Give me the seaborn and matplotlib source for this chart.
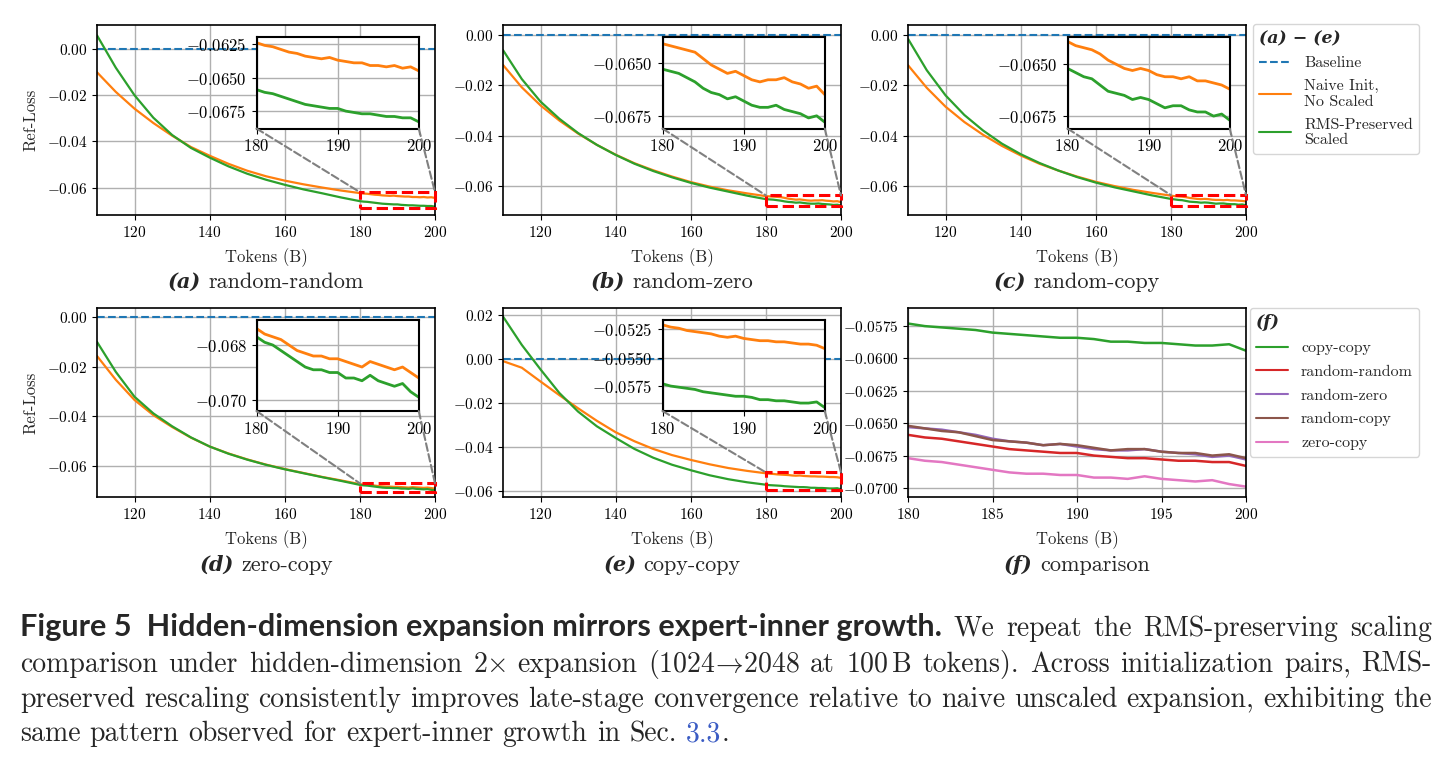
import matplotlib
matplotlib.use("Agg")
import matplotlib.pyplot as plt
import seaborn as sns
from matplotlib.patches import Rectangle, ConnectionPatch
from matplotlib.lines import Line2D
from matplotlib.ticker import FuncFormatter
from matplotlib.transforms import IdentityTransform
from matplotlib.font_manager import FontProperties

# tokens (B): every 5 B up to 175, then every 1 B over the zoomed window
tokens = list(range(110, 180, 5)) + list(range(180, 201))
baseline = 0.0

# (a) random-random
naive_rr = [-0.0100, -0.0185, -0.0258, -0.0320, -0.0375, -0.0424, -0.0462, -0.0497, -0.0527, -0.0551,
            -0.0570, -0.0586, -0.0600, -0.0613,
            -0.0624, -0.0626, -0.0627, -0.0629, -0.0631, -0.0632, -0.0634, -0.0635, -0.0636, -0.0635,
            -0.0637, -0.0638, -0.0639, -0.0639, -0.0641, -0.0641, -0.0642, -0.0641, -0.0643, -0.0642, -0.0645]
rms_rr = [0.0060, -0.0080, -0.0200, -0.0297, -0.0372, -0.0428, -0.0470, -0.0508, -0.0540, -0.0566,
          -0.0588, -0.0608, -0.0625, -0.0643,
          -0.0659, -0.0661, -0.0662, -0.0664, -0.0666, -0.0668, -0.0670, -0.0671, -0.0672, -0.0673,
          -0.0673, -0.0675, -0.0676, -0.0677, -0.0677, -0.0678, -0.0679, -0.0679, -0.0680, -0.0680, -0.0683]
# (b) random-zero
naive_rz = [-0.0119, -0.0208, -0.0280, -0.0340, -0.0392, -0.0437, -0.0476, -0.0510, -0.0538, -0.0563,
            -0.0585, -0.0603, -0.0618, -0.0630,
            -0.0641, -0.0642, -0.0643, -0.0644, -0.0645, -0.0648, -0.0651, -0.0653, -0.0655, -0.0654,
            -0.0656, -0.0658, -0.0659, -0.0658, -0.0658, -0.0657, -0.0659, -0.0660, -0.0662, -0.0661, -0.0665]
rms_rz = [-0.0060, -0.0175, -0.0265, -0.0333, -0.0390, -0.0437, -0.0477, -0.0512, -0.0541, -0.0566,
          -0.0588, -0.0607, -0.0623, -0.0639,
          -0.0653, -0.0654, -0.0655, -0.0657, -0.0659, -0.0662, -0.0664, -0.0665, -0.0667, -0.0666,
          -0.0668, -0.0670, -0.0671, -0.0671, -0.0670, -0.0672, -0.0673, -0.0674, -0.0676, -0.0675, -0.0678]
# (c) random-copy
naive_rc = [-0.0120, -0.0210, -0.0285, -0.0346, -0.0397, -0.0441, -0.0479, -0.0512, -0.0539, -0.0563,
            -0.0584, -0.0601, -0.0616, -0.0628,
            -0.0639, -0.0641, -0.0642, -0.0643, -0.0645, -0.0648, -0.0650, -0.0652, -0.0653, -0.0652,
            -0.0653, -0.0655, -0.0656, -0.0656, -0.0657, -0.0656, -0.0658, -0.0658, -0.0659, -0.0660, -0.0662]
rms_rc = [-0.0015, -0.0140, -0.0240, -0.0318, -0.0380, -0.0432, -0.0474, -0.0509, -0.0539, -0.0565,
          -0.0587, -0.0606, -0.0622, -0.0638,
          -0.0652, -0.0654, -0.0656, -0.0657, -0.0660, -0.0663, -0.0664, -0.0665, -0.0667, -0.0666,
          -0.0667, -0.0669, -0.0671, -0.0670, -0.0670, -0.0672, -0.0673, -0.0673, -0.0675, -0.0674, -0.0677]
# (d) zero-copy
naive_zc = [-0.0156, -0.0252, -0.0334, -0.0395, -0.0443, -0.0486, -0.0522, -0.0550, -0.0574, -0.0595,
            -0.0613, -0.0629, -0.0645, -0.0659,
            -0.0674, -0.0676, -0.0677, -0.0678, -0.0680, -0.0682, -0.0683, -0.0684, -0.0684, -0.0685,
            -0.0685, -0.0686, -0.0687, -0.0688, -0.0686, -0.0687, -0.0688, -0.0689, -0.0688, -0.0690, -0.0692]
rms_zc = [-0.0099, -0.0220, -0.0321, -0.0388, -0.0440, -0.0485, -0.0522, -0.0551, -0.0575, -0.0596,
          -0.0614, -0.0630, -0.0646, -0.0661,
          -0.0677, -0.0679, -0.0680, -0.0682, -0.0684, -0.0686, -0.0688, -0.0689, -0.0689, -0.0690,
          -0.0690, -0.0692, -0.0692, -0.0693, -0.0691, -0.0693, -0.0694, -0.0695, -0.0694, -0.0697, -0.0699]
# (e) copy-copy
naive_cc = [-0.0010, -0.0040, -0.0103, -0.0165, -0.0225, -0.0282, -0.0334, -0.0375, -0.0410, -0.0438,
            -0.0460, -0.0480, -0.0497, -0.0510,
            -0.0521, -0.0523, -0.0524, -0.0526, -0.0527, -0.0528, -0.0529, -0.0531, -0.0532, -0.0531,
            -0.0533, -0.0534, -0.0535, -0.0535, -0.0536, -0.0536, -0.0537, -0.0538, -0.0538, -0.0539, -0.0542]
rms_cc = [0.0193, 0.0064, -0.0048, -0.0155, -0.0240, -0.0307, -0.0360, -0.0410, -0.0450, -0.0482,
          -0.0507, -0.0530, -0.0548, -0.0562,
          -0.0573, -0.0575, -0.0576, -0.0577, -0.0578, -0.0580, -0.0581, -0.0582, -0.0583, -0.0584,
          -0.0584, -0.0585, -0.0587, -0.0587, -0.0588, -0.0588, -0.0589, -0.0590, -0.0590, -0.0589, -0.0594]

panel_letters = ["a", "b", "c", "d", "e"]
panel_names = ["random-random", "random-zero", "random-copy", "zero-copy", "copy-copy"]
naive_runs = [naive_rr, naive_rz, naive_rc, naive_zc, naive_cc]
rms_runs = [rms_rr, rms_rz, rms_rc, rms_zc, rms_cc]

main_yticks = [[-0.06, -0.04, -0.02, 0.00]] * 4 + [[-0.06, -0.04, -0.02, 0.00, 0.02]]
main_ylims = [(-0.0719, 0.0105), (-0.0716, 0.0040), (-0.0716, 0.0040), (-0.0726, 0.0038), (-0.0629, 0.0232)]
inset_ylims = [(-0.0688, -0.0620), (-0.0681, -0.0638), (-0.0681, -0.0637), (-0.0704, -0.0671), (-0.0597, -0.0517)]
inset_yticks = [[-0.0675, -0.0650, -0.0625], [-0.0675, -0.0650], [-0.0675, -0.0650],
                [-0.070, -0.068], [-0.0575, -0.0550, -0.0525]]
inset_dec = [4, 4, 4, 3, 4]

# (f) comparison of the RMS-preserved runs
cmp_names = ["copy-copy", "random-random", "random-zero", "random-copy", "zero-copy"]
cmp_runs = [rms_cc, rms_rr, rms_rz, rms_rc, rms_zc]
cmp_colors = ["#2ca02c", "#d62728", "#9467bd", "#8c564b", "#e377c2"]
cmp_yticks = [-0.0700, -0.0675, -0.0650, -0.0625, -0.0600, -0.0575]

C_BASE, C_NAIVE, C_RMS = "#1f77b4", "#ff7f0e", "#2ca02c"

sns.set_style("ticks")
plt.rcParams["font.family"] = "serif"
plt.rcParams["font.serif"] = ["cmr10"]
plt.rcParams["mathtext.fontset"] = "cm"
plt.rcParams["axes.formatter.use_mathtext"] = True
plt.rcParams["axes.edgecolor"] = "black"
plt.rcParams["axes.linewidth"] = 1.2
plt.rcParams["xtick.color"] = "black"
plt.rcParams["ytick.color"] = "black"
plt.rcParams["xtick.labelsize"] = 11
plt.rcParams["ytick.labelsize"] = 11
plt.rcParams["grid.color"] = "#b0b0b0"
plt.rcParams["grid.linewidth"] = 1.0

W, H = 1451, 758
fig = plt.figure(figsize=(W / 100, H / 100), dpi=100)


def px_rect(left, top, right, bottom):
    return [left / W, 1 - bottom / H, (right - left) / W, (bottom - top) / H]


def fmt(dec):
    return FuncFormatter(lambda v, p: rf"$\mathdefault{{{v + 0.0:.{dec}f}}}$")


cols = [(97, 435), (503, 841), (908, 1246)]
rows = [(25, 215), (308, 497)]
slots = [(0, 0), (0, 1), (0, 2), (1, 0), (1, 1)]
fine = slice(14, None)

for i in range(5):
    r, c = slots[i]
    ax = fig.add_axes(px_rect(cols[c][0], rows[r][0], cols[c][1], rows[r][1]))
    ax.axhline(baseline, ls="--", color=C_BASE, lw=1.5)
    sns.lineplot(x=tokens, y=naive_runs[i], ax=ax, color=C_NAIVE, lw=1.6)
    sns.lineplot(x=tokens, y=rms_runs[i], ax=ax, color=C_RMS, lw=1.6)
    ax.set_xlim(110, 200)
    ax.set_ylim(*main_ylims[i])
    ax.set_xticks([120, 140, 160, 180, 200])
    ax.set_yticks(main_yticks[i])
    ax.yaxis.set_major_formatter(fmt(2))
    ax.grid(True)
    ax.set_xlabel("Tokens (B)", fontsize=12, labelpad=6)
    ax.set_ylabel("Ref-Loss" if c == 0 else "", fontsize=12, labelpad=6)

    lo, hi = inset_ylims[i]
    axins = ax.inset_axes([0.472, 0.455, 0.48, 0.48])
    sns.lineplot(x=tokens[fine], y=naive_runs[i][fine], ax=axins, color=C_NAIVE, lw=2.0)
    sns.lineplot(x=tokens[fine], y=rms_runs[i][fine], ax=axins, color=C_RMS, lw=2.0)
    axins.set_xlim(180, 200)
    axins.set_ylim(lo, hi)
    axins.set_xticks([180, 190, 200])
    axins.set_yticks(inset_yticks[i])
    axins.yaxis.set_major_formatter(fmt(inset_dec[i]))
    axins.tick_params(labelsize=12)
    axins.set_xlabel("")
    axins.set_ylabel("")
    axins.grid(True)
    for sp in axins.spines.values():
        sp.set_linewidth(1.5)

    ax.add_patch(Rectangle((180, lo), 20, hi - lo, fill=False, ec="red", ls="--", lw=2.2,
                           clip_on=False, zorder=5))
    for xc in (180, 200):
        fig.add_artist(ConnectionPatch(xyA=(xc, lo), coordsA=axins.transData,
                                       xyB=(xc, hi), coordsB=ax.transData,
                                       color="gray", ls="--", lw=1.5))

# panel (f)
axf = fig.add_axes(px_rect(cols[2][0], rows[1][0], cols[2][1], rows[1][1]))
for name, run, col in zip(cmp_names, cmp_runs, cmp_colors):
    sns.lineplot(x=tokens[fine], y=run[fine], ax=axf, color=col, lw=1.8)
axf.set_xlim(180, 200)
axf.set_ylim(-0.0707, -0.0561)
axf.set_xticks([180, 185, 190, 195, 200])
axf.set_yticks(cmp_yticks)
axf.yaxis.set_major_formatter(fmt(4))
axf.grid(True)
axf.set_xlabel("Tokens (B)", fontsize=12, labelpad=6)
axf.set_ylabel("")

title_fp = FontProperties(family="DejaVu Serif", weight="bold", style="italic", size=12.5)
h1 = [Line2D([], [], color=C_BASE, ls="--", lw=1.5), Line2D([], [], color=C_NAIVE, lw=1.5),
      Line2D([], [], color=C_RMS, lw=1.5)]
fig.legend(h1, ["Baseline", "Naive Init,\nNo Scaled", "RMS-Preserved\nScaled"],
           loc="upper left", bbox_to_anchor=(1253 / W, 1 - 24 / H), borderaxespad=0,
           fontsize=11.5, title="(a) \u2212 (e)", title_fontproperties=title_fp,
           alignment="left", labelspacing=0.55, frameon=True)
h2 = [Line2D([], [], color=col, lw=1.5) for col in cmp_colors]
fig.legend(h2, cmp_names, loc="upper left", bbox_to_anchor=(1250 / W, 1 - 308 / H), borderaxespad=0,
           fontsize=11.5, title="(f)", title_fontproperties=title_fp, alignment="left",
           labelspacing=0.6, frameon=True)

# word-level text placement (for mixed fonts and the justified caption)
renderer = fig.canvas.get_renderer()
PX = IdentityTransform()


def lay_words(words, base_y, x0, x1=None, mode="left"):
    arts = [fig.text(0, H - base_y, s, transform=PX, ha="left", va="baseline", **kw)
            for s, kw, _ in words]
    widths = [a.get_window_extent(renderer).width for a in arts]
    nsp = sum(1 for w in words if w[2])
    if mode == "justify":
        gap = (x1 - x0 - sum(widths)) / max(nsp, 1)
    else:
        gap = words[-1][1].get("fontsize", 12) * 0.333 * 100 / 72
    total = sum(widths) + gap * nsp
    x = x0 - total / 2 if mode == "center" else x0
    for a, w, (s, kw, sp) in zip(arts, widths, words):
        if sp:
            x += gap
        a.set_x(x)
        x += w


bi = dict(family="DejaVu Serif", weight="bold", style="italic", fontsize=15)
panel_slots = slots + [(1, 2)]
sub_names = panel_names + ["comparison"]
sub_letters = panel_letters + ["f"]
for (r, c), letter, name in zip(panel_slots, sub_letters, sub_names):
    cx = (cols[c][0] + cols[c][1]) / 2
    base = 288 if r == 0 else 571
    lay_words([(f"({letter})", bi, False), (name, dict(fontsize=16), True)], base, cx, mode="center")

# caption
bold_txt = "Figure 5  Hidden-dimension expansion mirrors expert-inner growth."
probe = fig.text(0, 0, bold_txt, transform=PX, family="Lato", weight="bold", fontsize=18)
bsize = 18 * 923 / probe.get_window_extent(renderer).width
probe.remove()
bold = dict(family="Lato", weight="bold", fontsize=bsize)
sf = dict(fontsize=20)


def serif_words(text):
    return [(w, sf, True) for w in text.split()]


line1 = [(bold_txt, bold, False)] + serif_words("We repeat the RMS-preserving scaling")
line2 = (serif_words("comparison under hidden-dimension") + [(r"2$\times$", sf, True)]
         + serif_words("expansion") + [(r"(1024$\!\rightarrow\!$2048", sf, True), ("at", sf, True),
                                       (r"100$\,$B", sf, True)]
         + serif_words("tokens). Across initialization pairs, RMS-"))
line2[0] = (line2[0][0], sf, False)
line3 = serif_words("preserved rescaling consistently improves late-stage convergence relative "
                    "to naive unscaled expansion, exhibiting the")
line3[0] = (line3[0][0], sf, False)
line4 = serif_words("same pattern observed for expert-inner growth in Sec.") + \
    [("3.3", dict(fontsize=20, color="#3b5cc4"), True), (".", sf, False)]
line4[0] = (line4[0][0], sf, False)

lay_words(line1, 636, 20, 1432, mode="justify")
lay_words(line2, 672, 20, 1432, mode="justify")
lay_words(line3, 707, 20, 1432, mode="justify")
lay_words(line4, 741, 20)

fig.savefig("out.png", dpi=100)
